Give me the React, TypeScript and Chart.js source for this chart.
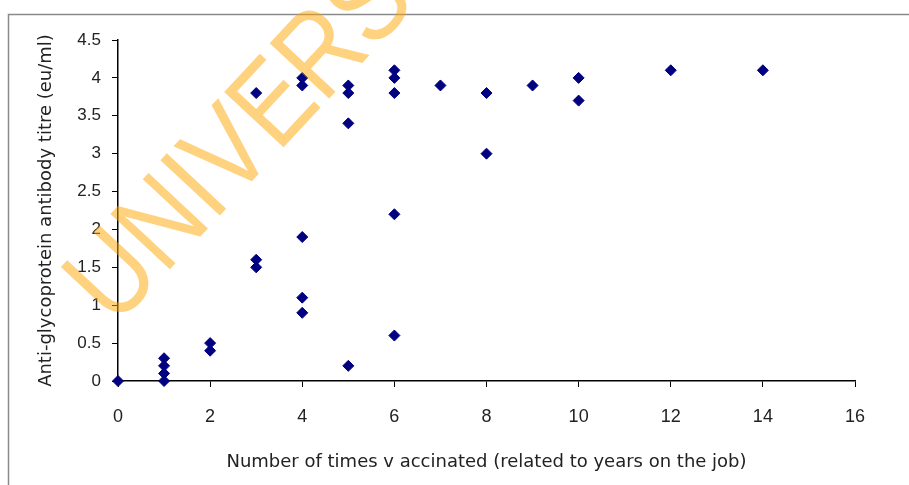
import React, { useEffect, useRef } from 'react';
import { Chart, registerables } from 'chart.js';

Chart.register(...registerables);

// Number of times vaccinated (x) and antibody titre (y)
const xValues = [0, 1, 1, 1, 1, 2, 2, 3, 3, 3, 4, 4, 4, 4, 4, 5, 5, 5, 5, 6, 6, 6, 6, 6, 7, 8, 8, 9, 10, 10, 12, 14];
const yValues = [0, 0.3, 0.2, 0.1, 0, 0.5, 0.4, 3.8, 1.6, 1.5, 4.0, 3.9, 1.9, 1.1, 0.9, 3.9, 3.8, 3.4, 0.2, 4.1, 4.0, 3.8, 2.2, 0.6, 3.9, 3.8, 3.0, 3.9, 4.0, 3.7, 4.1, 4.1];

const xTickLabels = ['0', '2', '4', '6', '8', '10', '12', '14', '16'];
const yTickLabels = ['0', '0.5', '1', '1.5', '2', '2.5', '3', '3.5', '4', '4.5'];

const xTitle = 'Number of times v accinated (related to years on the job)';
const yTitle = 'Anti-glycoprotein antibody titre (eu/ml)';
const watermarkText = 'UNIVERSITY';

const labelFor = (labels: string[], v: number) => {
  const found = labels.find((l) => Math.abs(Number(l) - v) < 1e-9);
  return found ?? '';
};

export default function App() {
  const ref = useRef<HTMLCanvasElement | null>(null);

  useEffect(() => {
    if (!ref.current) return;

    const framePlugin = {
      id: 'frame',
      beforeDraw(chart: any) {
        const ctx = chart.ctx;
        ctx.save();
        ctx.fillStyle = '#ffffff';
        ctx.fillRect(0, 0, chart.width, chart.height);
        ctx.strokeStyle = '#8a8a8a';
        ctx.lineWidth = 1.5;
        ctx.strokeRect(8.5, 14.5, 2000, 2000);
        ctx.restore();
      },
    };

    const watermarkPlugin = {
      id: 'watermark',
      afterDraw(chart: any) {
        const ctx = chart.ctx;
        ctx.save();
        ctx.translate(115, 328);
        ctx.rotate((-47 * Math.PI) / 180);
        ctx.scale(1, 1.18);
        ctx.font = '100px "Liberation Sans", Arial, sans-serif';
        ctx.fillStyle = 'rgba(255,165,0,0.5)';
        ctx.textBaseline = 'alphabetic';
        ctx.textAlign = 'left';
        ctx.fillText(watermarkText, 0, 0);
        ctx.restore();
      },
    };

    const chart = new Chart(ref.current, {
      type: 'scatter',
      data: {
        datasets: [
          {
            label: 'titre',
            data: xValues.map((x, i) => ({ x, y: yValues[i] })),
            pointStyle: 'rectRot',
            pointRadius: 5.5,
            pointHoverRadius: 5.5,
            backgroundColor: '#000080',
            borderColor: '#000080',
            borderWidth: 1,
            clip: false,
          },
        ],
      },
      options: {
        responsive: false,
        animation: false,
        devicePixelRatio: 1,
        layout: { padding: { left: 0, top: 40, right: 54, bottom: 0 } },
        plugins: {
          legend: { display: false },
          tooltip: { enabled: false },
        },
        scales: {
          x: {
            type: 'linear',
            min: 0,
            max: 16,
            afterFit(scale: any) {
              scale.height = 104;
            },
            ticks: {
              stepSize: 2,
              padding: 19,
              color: '#222',
              font: { family: '"Liberation Sans", Arial, sans-serif', size: 18 },
              callback: (v: any) => labelFor(xTickLabels, Number(v)),
              maxRotation: 0,
            },
            grid: { drawOnChartArea: false, drawTicks: true, tickLength: 6, color: '#000', lineWidth: 1 },
            border: { display: true, color: '#000', width: 1.5 },
            title: {
              display: true,
              text: xTitle,
              color: '#222',
              font: { family: '"DejaVu Sans", sans-serif', size: 18 },
              padding: { top: 0, bottom: 12 },
            },
          },
          y: {
            type: 'linear',
            min: 0,
            max: 4.5,
            afterFit(scale: any) {
              scale.width = 118;
            },
            ticks: {
              stepSize: 0.5,
              padding: 11,
              color: '#222',
              font: { family: '"Liberation Sans", Arial, sans-serif', size: 17 },
              callback: (v: any) => labelFor(yTickLabels, Number(v)),
            },
            grid: { drawOnChartArea: false, drawTicks: true, tickLength: 6, color: '#000', lineWidth: 1 },
            border: { display: true, color: '#000', width: 1.5 },
            title: {
              display: true,
              text: yTitle,
              color: '#222',
              font: { family: '"DejaVu Sans", sans-serif', size: 18 },
              padding: { top: 36, bottom: 0 },
            },
          },
        },
      },
      plugins: [framePlugin, watermarkPlugin],
    } as any);

    return () => chart.destroy();
  }, []);

  return (
    <div style={{ position: 'absolute', left: 0, top: 0, width: 909, height: 485 }}>
      <canvas ref={ref} width={909} height={485} style={{ display: 'block' }} />
    </div>
  );
}
